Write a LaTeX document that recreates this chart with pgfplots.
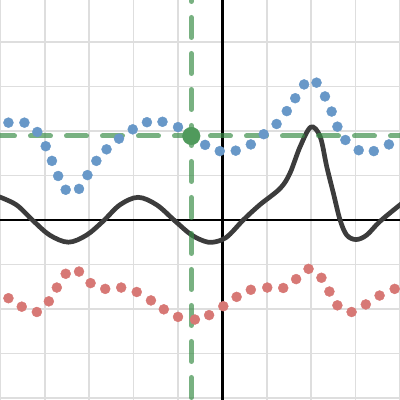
\documentclass[border=0pt]{standalone}
\usepackage{pgfplots}
\pgfplotsset{compat=1.18}
\definecolor{dblue}{HTML}{2D70B3}
\definecolor{dred}{HTML}{C74440}
\definecolor{dgreen}{HTML}{388C46}
\definecolor{dcurve}{HTML}{3C3C3C}
\definecolor{gridgray}{HTML}{DEDEDE}
\colorlet{bluedot}{dblue!72!white}
\colorlet{reddot}{dred!72!white}
\colorlet{greendot}{dgreen!88!white}
\begin{document}
\begin{tikzpicture}
\begin{axis}[
  scale only axis,
  width=400pt, height=400pt,
  xmin=-5.01, xmax=4.0,
  ymin=-4.05, ymax=4.95,
  xtick={-5,...,4}, ytick={-4,...,4},
  xticklabels={}, yticklabels={},
  major tick length=0pt,
  grid=major,
  grid style={draw=gridgray, line width=1.6pt},
  axis line style={draw=none},
  clip=true,
]
% axes
\addplot[black, line width=2.6pt] coordinates {(-5.1,0) (4.1,0)};
\addplot[black, line width=2.6pt] coordinates {(0,-4.1) (0,5)};

% red points
\addplot[only marks, mark=*, mark size=5pt, color=reddot,
  mark options={draw=reddot, fill=reddot}]
  coordinates {
    (-4.82,-1.76) (-4.52,-1.95) (-4.18,-2.07) (-3.91,-1.83) (-3.73,-1.52)
    (-3.53,-1.21) (-3.23,-1.16) (-2.97,-1.42) (-2.64,-1.55) (-2.28,-1.52)
    (-1.93,-1.62) (-1.61,-1.81) (-1.32,-2.01) (-1.00,-2.18) (-0.62,-2.24)
    (-0.30,-2.14) (0.02,-1.94) (0.32,-1.73) (0.64,-1.57) (1.01,-1.52)
    (1.37,-1.53) (1.66,-1.33) (1.94,-1.10) (2.23,-1.30) (2.41,-1.61)
    (2.59,-1.92) (2.91,-2.07) (3.23,-1.90) (3.54,-1.70) (3.88,-1.55)
  };

% blue points
\addplot[only marks, mark=*, mark size=5pt, color=bluedot,
  mark options={draw=bluedot, fill=bluedot}]
  coordinates {
    (-4.82,2.19) (-4.46,2.19) (-4.17,1.98) (-3.98,1.66) (-3.84,1.33)
    (-3.70,0.99) (-3.53,0.68) (-3.23,0.70) (-3.04,1.01) (-2.84,1.33)
    (-2.61,1.59) (-2.33,1.83) (-2.02,2.04) (-1.70,2.20) (-1.35,2.21)
    (-1.00,2.09) (-0.70,1.89) (-0.39,1.69) (-0.06,1.55) (0.30,1.56)
    (0.64,1.70) (0.93,1.93) (1.22,2.16) (1.45,2.45) (1.64,2.74)
    (1.84,3.05) (2.12,3.09) (2.31,2.78) (2.46,2.44) (2.59,2.10)
    (2.77,1.80) (3.07,1.57) (3.41,1.55) (3.75,1.70) (4.05,1.93)
  };

% black curve
\addplot[dcurve, line width=4.7pt, smooth, tension=0.55]
  coordinates {
    (-5.05,0.53) (-4.64,0.34) (-4.26,-0.02) (-3.89,-0.34) (-3.47,-0.50)
    (-3.06,-0.34) (-2.68,-0.02) (-2.31,0.34) (-1.90,0.51) (-1.48,0.34)
    (-1.07,-0.02) (-0.69,-0.34) (-0.32,-0.50) (-0.02,-0.45) (0.17,-0.32)
    (0.47,0.00) (0.84,0.34) (1.30,0.71) (1.52,1.05) (1.75,1.65)
    (1.99,2.09) (2.20,1.88) (2.35,1.20) (2.50,0.60) (2.65,0.00)
    (2.80,-0.34) (3.01,-0.44) (3.25,-0.34) (3.55,-0.03) (4.05,0.38)
  };

% green dashed lines
\addplot[dgreen, opacity=0.68, line width=5pt, line cap=round,
  dash pattern=on 20pt off 16pt, dash phase=5.5pt]
  coordinates {(-5.01,1.89) (4.0,1.89)};
\addplot[dgreen, opacity=0.68, line width=5pt, line cap=round,
  dash pattern=on 20pt off 16pt, dash phase=18.5pt]
  coordinates {(-0.70,4.95) (-0.70,-4.05)};

% green point
\addplot[only marks, mark=*, mark size=8.8pt, color=greendot,
  mark options={draw=greendot, fill=greendot}]
  coordinates {(-0.70,1.89)};
\end{axis}
\pgfresetboundingbox
\path[use as bounding box] (current axis.south west) rectangle (current axis.north east);
\end{tikzpicture}
\end{document}
